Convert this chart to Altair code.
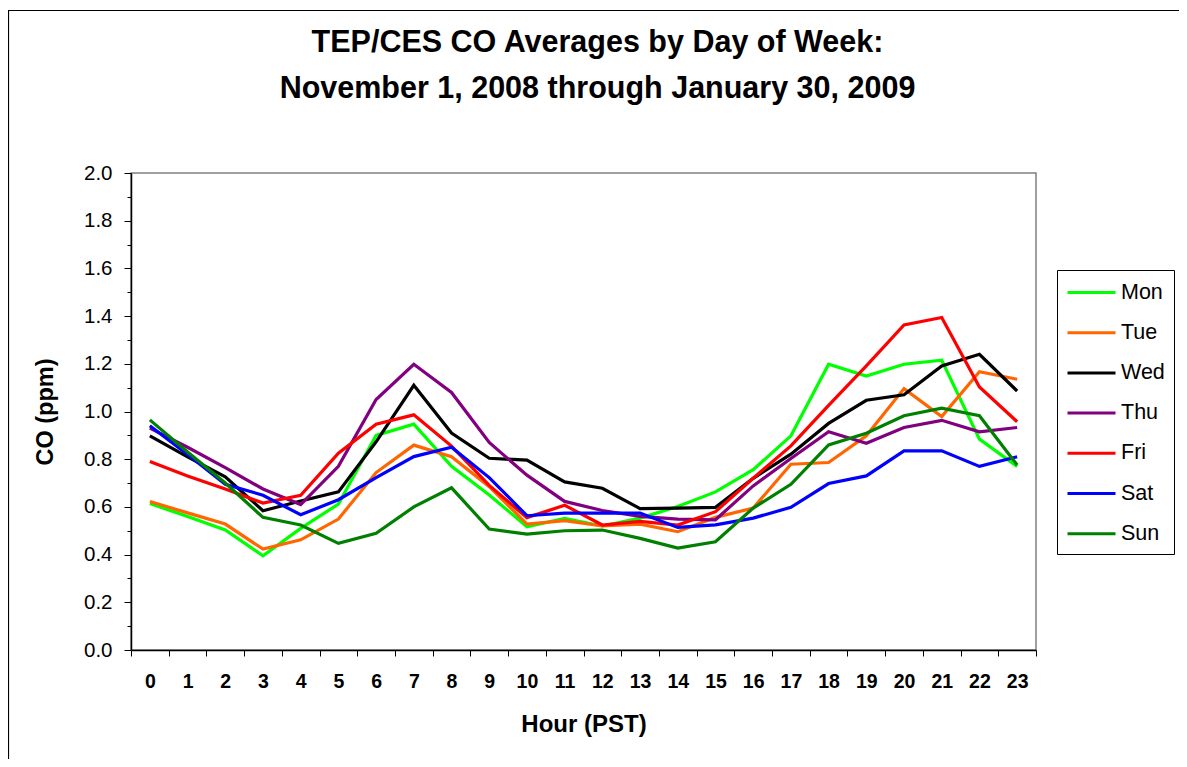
import altair as alt
import pandas as pd

hours = list(range(24))
days = ["Mon", "Tue", "Wed", "Thu", "Fri", "Sat", "Sun"]
colors = ["#00FF00", "#FF6600", "#000000", "#800080", "#FF0000", "#0000FF", "#008000"]

mon = [0.614, 0.56, 0.503, 0.395, 0.51, 0.612, 0.90, 0.947, 0.77, 0.65, 0.517, 0.552,
       0.52, 0.553, 0.602, 0.663, 0.756, 0.898, 1.198, 1.149, 1.198, 1.215, 0.884, 0.77]
tue = [0.623, 0.575, 0.528, 0.423, 0.462, 0.549, 0.744, 0.859, 0.81, 0.685, 0.528, 0.542,
       0.52, 0.528, 0.496, 0.556, 0.595, 0.779, 0.786, 0.898, 1.096, 0.979, 1.167, 1.135]
wed = [0.898, 0.81, 0.726, 0.584, 0.625, 0.663, 0.873, 1.11, 0.91, 0.804, 0.796, 0.705,
       0.678, 0.593, 0.595, 0.598, 0.72, 0.821, 0.95, 1.047, 1.07, 1.191, 1.24, 1.086]
thu = [0.93, 0.85, 0.765, 0.675, 0.61, 0.77, 1.05, 1.198, 1.08, 0.87, 0.733, 0.623,
       0.585, 0.56, 0.549, 0.546, 0.688, 0.803, 0.915, 0.867, 0.933, 0.963, 0.915, 0.933]
fri = [0.79, 0.73, 0.675, 0.616, 0.649, 0.825, 0.947, 0.986, 0.855, 0.69, 0.555, 0.607,
       0.524, 0.539, 0.524, 0.58, 0.72, 0.856, 1.026, 1.191, 1.363, 1.394, 1.103, 0.957]
sat = [0.94, 0.82, 0.695, 0.649, 0.567, 0.63, 0.723, 0.811, 0.85, 0.723, 0.563, 0.574,
       0.574, 0.574, 0.514, 0.525, 0.553, 0.598, 0.698, 0.73, 0.835, 0.835, 0.77, 0.81]
sun = [0.965, 0.83, 0.70, 0.556, 0.524, 0.447, 0.489, 0.60, 0.68, 0.507, 0.486, 0.50,
       0.503, 0.468, 0.427, 0.454, 0.595, 0.695, 0.86, 0.909, 0.982, 1.014, 0.982, 0.776]

series = [mon, tue, wed, thu, fri, sat, sun]
rows = []
for d, vals in zip(days, series):
    for h, v in zip(hours, vals):
        rows.append({"Hour": h, "Day": d, "CO": v})
df = pd.DataFrame(rows)

W, H = 905, 477
FONT = "Liberation Sans"

frame = alt.Chart(pd.DataFrame({"k": [0]})).mark_rect(
    fillOpacity=0, stroke="#000000", strokeWidth=1.2
).encode(
    x=alt.value(-122.5), x2=alt.value(1049), y=alt.value(-162.5), y2=alt.value(700)
)

lines = alt.Chart(df).mark_line(strokeWidth=3.2).encode(
    x=alt.X(
        "Hour:O",
        scale=alt.Scale(type="band", paddingInner=0, paddingOuter=0),
        axis=alt.Axis(
            title="Hour (PST)",
            labelAngle=0,
            labelFont=FONT, labelFontSize=19.5, labelFontWeight="bold", labelColor="black",
            labelPadding=16,
            tickBand="extent", tickSize=6, tickColor="black",
            domainColor="black", domainWidth=1.5,
            titleFont=FONT, titleFontSize=24, titleFontWeight="bold", titleColor="black",
            titleX=W / 2, titleY=74, titleBaseline="middle",
            grid=False,
        ),
    ),
    y=alt.Y(
        "CO:Q",
        scale=alt.Scale(domain=[0, 2], nice=False),
        axis=alt.Axis(
            title="CO (ppm)",
            values=[round(i * 0.1, 1) for i in range(21)],
            labelExpr="round(datum.value*10) % 2 == 0 ? format(datum.value, '.1f') : ''",
            labelFont=FONT, labelFontSize=20.5, labelColor="black", labelPadding=12,
            tickSize={"condition": {"test": "round(datum.value*10) % 2 == 0", "value": 7}, "value": 4},
            tickColor="black",
            domainColor="black", domainWidth=1.5,
            titleFont=FONT, titleFontSize=23.5, titleFontWeight="bold", titleColor="black",
            titleX=-86, titleY=H / 2, titleBaseline="middle", titleAngle=270,
            grid=False,
        ),
    ),
    color=alt.Color(
        "Day:N",
        sort=days,
        scale=alt.Scale(domain=days, range=colors),
        legend=alt.Legend(
            title=None,
            orient="none", legendX=926, legendY=97,
            direction="vertical",
            strokeColor="black", fillColor="white", padding=9,
            symbolType="M-1,0L3,0", symbolSize=576, symbolStrokeWidth=3,
            labelFont=FONT, labelFontSize=21.5, labelColor="black", labelOffset=28,
            rowPadding=16.2,
        ),
    ),
)

chart = alt.layer(frame, lines).properties(
    width=W,
    height=H,
    title=alt.Title(
        ["TEP/CES CO Averages by Day of Week:", "November 1, 2008 through January 30, 2009"],
        font=FONT, fontSize=30.5, fontWeight="bold", color="black",
        lineHeight=46, anchor="middle", frame="group", dx=14, offset=-95,
    ),
    autosize=alt.AutoSizeParams(type="none"),
    padding={"left": 123, "top": 165, "right": 143, "bottom": 109},
).configure_view(stroke="#808080", strokeWidth=1.5)

chart.save("out.html", embed_options={"renderer": "svg", "actions": False})
